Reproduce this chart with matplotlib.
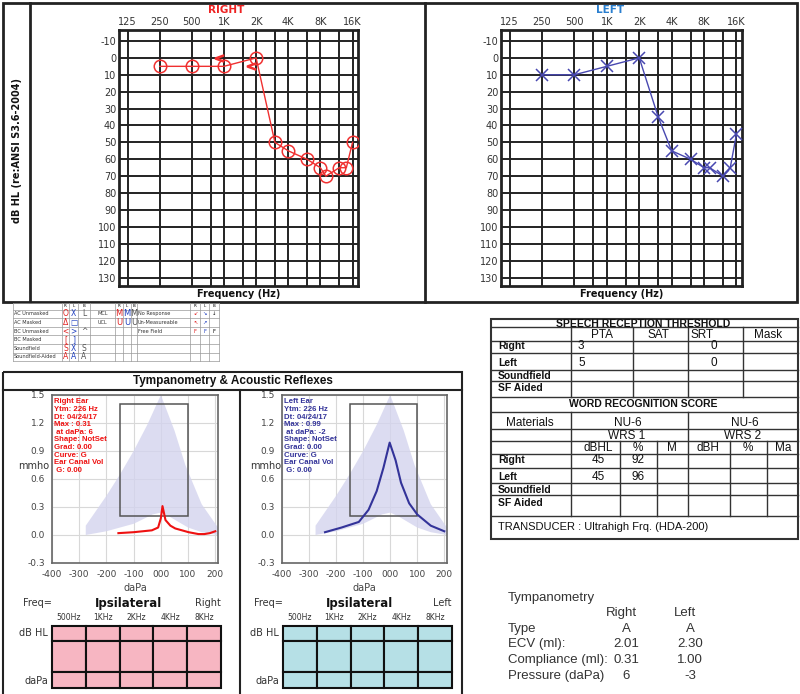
import matplotlib
matplotlib.use('Agg')
import matplotlib.pyplot as plt
import matplotlib.transforms as mtransforms
from matplotlib.patches import Rectangle
from matplotlib.ticker import NullLocator
import numpy as np

# ---- audiogram data ----
right_freqs = [250, 500, 1000, 2000, 3000, 4000, 6000, 8000, 9000, 12000, 14000, 16000]
right_db = [5, 5, 5, 0, 50, 55, 60, 65, 70, 65, 65, 50]
right_bc_freqs = [1000, 2000]
right_bc_db = [0, 5]
left_freqs = [250, 500, 1000, 2000, 3000, 4000, 6000, 8000, 9000, 12000, 14000, 16000]
left_db = [10, 10, 5, 0, 35, 55, 60, 65, 65, 70, 65, 45]

grid_freqs = [125, 250, 500, 750, 1000, 1500, 2000, 3000, 4000, 6000, 8000, 12000, 16000]
label_freqs = [125, 250, 500, 1000, 2000, 4000, 8000, 16000]
label_text = ['125', '250', '500', '1K', '2K', '4K', '8K', '16K']
db_ticks = list(range(-10, 131, 10))

# ---- tympanometry data ----
norm_upper_x = [-276, -276, -200, -150, -100, -50, 0, 50, 90, 150, 210]
norm_upper_y = [0.0, 0.1, 0.42, 0.65, 0.9, 1.18, 1.5, 1.12, 0.75, 0.33, 0.08]
norm_lower_x = [210, 150, 100, 30, 0, -30, -100, -200, -276]
norm_lower_y = [0.0, 0.03, 0.08, 0.2, 0.24, 0.22, 0.12, 0.04, 0.0]

right_tymp_x = [-156, -100, -33, -10, 0, 6, 17, 35, 53, 102, 138, 160, 180, 200]
right_tymp_y = [0.02, 0.03, 0.05, 0.08, 0.18, 0.31, 0.16, 0.1, 0.07, 0.03, 0.01, 0.01, 0.02, 0.04]
left_tymp_x = [-241, -180, -116, -80, -50, -25, -2, 20, 40, 70, 100, 150, 200]
left_tymp_y = [0.03, 0.08, 0.14, 0.27, 0.47, 0.72, 0.99, 0.8, 0.56, 0.34, 0.22, 0.1, 0.04]

tymp_xticks = [-400, -300, -200, -100, 0, 100, 200]
tymp_xlabels = ['-400', '-300', '-200', '-100', '000', '100', '200']
tymp_yticks = [-0.3, 0.0, 0.3, 0.6, 0.9, 1.2, 1.5]
tymp_ylabels = ['-0.3', '0.0', '0.3', '0.6', '0.9', '1.2', '1.5']

right_info = ['Right Ear', 'Ytm: 226 Hz', 'Dt: 04/24/17', 'Max : 0.31', ' at daPa: 6',
              'Shape: NotSet', 'Grad: 0.00', 'Curve: G', 'Ear Canal Vol', ' G: 0.00']
left_info = ['Left Ear', 'Ytm: 226 Hz', 'Dt: 04/24/17', 'Max : 0.99', ' at daPa: -2',
             'Shape: NotSet', 'Grad: 0.00', 'Curve: G', 'Ear Canal Vol', ' G: 0.00']

reflex_freqs = ['500Hz', '1KHz', '2KHz', '4KHz', '8KHz']

# ---- speech table data ----
srt_cols = ['PTA', 'SAT', 'SRT', 'Mask']
srt_rows = ['Right', 'Left', 'Soundfield', 'SF Aided']
srt_pta = ['3', '5', '', '']
srt_srt = ['0', '0', '', '']
wrs_cols = ['dBHL', '%', 'M', 'dBH', '%', 'Ma']
wrs_dbhl = ['45', '45', '', '']
wrs_pct = ['92', '96', '', '']

# ---- tympanometry summary ----
summ_labels = ['Type', 'ECV (ml):', 'Compliance (ml):', 'Pressure (daPa)']
summ_right = ['A', '2.01', '0.31', '6']
summ_left = ['A', '2.30', '1.00', '-3']

# ---- symbol key ----
key_rows = ['AC Unmasked', 'AC Masked', 'BC Unmasked', 'BC Masked', 'Soundfield', 'Soundfield-Aided']
key_r = ['O', 'Δ', '<', '[', 'S', 'A']
key_l = ['X', '□', '>', ']', 'X', 'A']
key_b = ['L', '', '^', '', 'S', 'A']
key_mid_rows = ['MCL', 'UCL']
key_mid_syms = ['M', 'U']
key_nr_rows = ['No Response', 'Un-Measureable', 'Free Field']
key_nr_r = ['↙', '↖', 'F']
key_nr_l = ['↘', '↗', 'F']
key_nr_b = ['↓', '', 'F']

RED = '#f03030'
BLUE = '#4848b0'

W, H = 800, 694
fig = plt.figure(figsize=(W / 100, H / 100), dpi=100)
ARIAL = 'Liberation Sans'


def box(x0, y0, x1, y1):
    return [x0 / W, 1 - y1 / H, (x1 - x0) / W, (y1 - y0) / H]


# overlay in pixel coordinates for frames, tables and labels
ov = fig.add_axes([0, 0, 1, 1], zorder=0)
ov.set_xlim(0, W)
ov.set_ylim(H, 0)
ov.axis('off')


def frame(x0, y0, x1, y1, lw=1.5, color='#222222'):
    ov.add_patch(Rectangle((x0, y0), x1 - x0, y1 - y0, fill=False, ec=color, lw=lw))


def hl(y, x0, x1, lw=1.0, color='#333333'):
    ov.plot([x0, x1], [y, y], color=color, lw=lw)


def vl(x, y0, y1, lw=1.0, color='#333333'):
    ov.plot([x, x], [y0, y1], color=color, lw=lw)


# ---- audiogram frame ----
frame(3, 3, 797, 302, lw=2)
vl(30, 3, 302, lw=2, color='#222222')
vl(425, 3, 302, lw=2, color='#222222')
ov.text(17, 150, 'dB HL (re:ANSI S3.6-2004)', rotation=90, ha='center', va='center',
        fontsize=7, fontweight='bold', color='#111111')


def audiogram(rect, freqs, db, color, marker, title, title_color, title_x, bc=None):
    ax = fig.add_axes(box(*rect), zorder=1)
    ax.set_xscale('log')
    for f in grid_freqs:
        ax.axvline(f, color='#222222', lw=1.4, zorder=1)
    for d in db_ticks:
        ax.axhline(d, color='#222222', lw=1.4, zorder=1)
    ax.plot(freqs, db, color=color, lw=1.0, zorder=3)
    ax.plot(freqs, db, ls='none', marker=marker, ms=9, mfc='none', mec=color, mew=1.1, zorder=4)
    if bc is not None:
        off = ax.transData + mtransforms.ScaledTranslation(-3.5 / 72, 0, fig.dpi_scale_trans)
        ax.plot(bc[0], bc[1], ls='none', marker='$<$', ms=6, color=color, transform=off, zorder=4)
    ax.set_xlim(104, 18000)
    ax.set_ylim(135, -16.5)
    ax.xaxis.tick_top()
    ax.set_xticks(label_freqs)
    ax.set_xticklabels(label_text)
    ax.xaxis.set_minor_locator(NullLocator())
    ax.set_yticks(db_ticks)
    ax.set_yticklabels([str(d) for d in db_ticks])
    ax.tick_params(length=0, labelsize=7, pad=2, colors='#333333')
    for s in ax.spines.values():
        s.set_linewidth(2)
        s.set_color('#222222')
    ov.text(title_x, 10, title, ha='center', va='center', fontsize=7.5,
            fontweight='bold', color=title_color)
    ov.text((rect[0] + rect[2]) / 2, 294, 'Frequency (Hz)', ha='center', va='center',
            fontsize=7, fontweight='bold', color='#111111')
    return ax


audiogram((119, 30, 358, 286), right_freqs, right_db, RED, 'o', 'RIGHT', '#ee2222', 226,
          bc=(right_bc_freqs, right_bc_db))
audiogram((501, 30, 742, 286), left_freqs, left_db, BLUE, 'x', 'LEFT', '#2a7fcf', 610)

# ---- symbol key ----
kx = [13, 62, 69, 78, 90, 115, 123, 131, 137, 190, 200, 209, 219]
ky = [303, 309.5] + [309.5 + 8.6 * (i + 1) for i in range(6)]
for x in kx:
    vl(x, ky[0], ky[-1], lw=0.5, color='#999999')
for y in ky:
    hl(y, kx[0], kx[-1], lw=0.5, color='#999999')
for cols in ([1, 2, 3], [5, 6, 7], [9, 10, 11]):
    for c, t in zip(cols, ['R', 'L', 'B']):
        ov.text((kx[c] + kx[c + 1]) / 2, (ky[0] + ky[1]) / 2, t, fontsize=3, ha='center', va='center')
sym_colors = ['#e02020', '#2040c0', '#555555']
for i, lab in enumerate(key_rows):
    yc = (ky[i + 1] + ky[i + 2]) / 2
    ov.text(kx[0] + 1, yc, lab, fontsize=3.6, va='center', color='#333333')
    for c, sym, col in zip([1, 2, 3], [key_r[i], key_l[i], key_b[i]], sym_colors):
        ov.text((kx[c] + kx[c + 1]) / 2, yc, sym, fontsize=5.5, ha='center', va='center', color=col)
for i, lab in enumerate(key_mid_rows):
    yc = (ky[i + 1] + ky[i + 2]) / 2
    ov.text(kx[4] + 8, yc, lab, fontsize=3.6, va='center', color='#333333')
    for c, col in zip([5, 6, 7], sym_colors):
        ov.text((kx[c] + kx[c + 1]) / 2, yc, key_mid_syms[i], fontsize=6, ha='center',
                va='center', color=col)
for i, lab in enumerate(key_nr_rows):
    yc = (ky[i + 1] + ky[i + 2]) / 2
    ov.text(kx[8] + 1, yc, lab, fontsize=3.6, va='center', color='#333333')
    for c, sym, col in zip([9, 10, 11], [key_nr_r[i], key_nr_l[i], key_nr_b[i]],
                           ['#e02020', '#2040c0', '#111111']):
        ov.text((kx[c] + kx[c + 1]) / 2, yc, sym, fontsize=3.8, ha='center', va='center', color=col)

# ---- tympanometry frame ----
frame(3, 372, 462, 700, lw=1.5)
hl(390, 3, 462, lw=1.5, color='#222222')
vl(240, 390, 694, lw=1.5, color='#222222')
ov.text(233, 381, 'Tympanometry & Acoustic Reflexes', ha='center', va='center',
        fontsize=8.5, fontweight='bold', family=ARIAL, color='#111111')


def tymp(rect, px, py, color, info, mmho_x):
    ax = fig.add_axes(box(*rect), zorder=1)
    ax.fill(np.r_[norm_upper_x, norm_lower_x], np.r_[norm_upper_y, norm_lower_y],
            color='#d4d4ee', alpha=0.8, lw=0, zorder=1)
    ax.add_patch(Rectangle((-150, 0.2), 250, 1.2, fill=False, ec='#555555', lw=1.1, zorder=2))
    ax.plot(px, py, color=color, lw=1.5, zorder=3)
    ax.set_xlim(-400, 210)
    ax.set_ylim(-0.3, 1.5)
    ax.set_xticks(tymp_xticks)
    ax.set_xticklabels(tymp_xlabels)
    ax.set_yticks(tymp_yticks)
    ax.set_yticklabels(tymp_ylabels)
    ax.grid(color='#d8d8d8', lw=0.8)
    ax.set_axisbelow(True)
    ax.tick_params(length=0, labelsize=6.5, colors='#444444', pad=5)
    for s in ax.spines.values():
        s.set_linewidth(1.2)
        s.set_color('#666666')
    ax.text(0.012, 0.98, '\n'.join(info), transform=ax.transAxes, va='top', ha='left',
            fontsize=5.6, fontweight='bold', family=ARIAL, color=color, linespacing=1.12, zorder=5)
    ax.set_xlabel('daPa', fontsize=7, color='#444444', labelpad=3)
    ov.text(mmho_x, 466, 'mmho', fontsize=7, va='center', ha='left', color='#333333')
    return ax


tymp((52, 395, 218, 563), right_tymp_x, right_tymp_y, '#ee1111', right_info, 18)
tymp((282, 395, 447, 563), left_tymp_x, left_tymp_y, '#333399', left_info, 250)


def reflex(x0, x1, lab_x, side, color):
    cw = (x1 - x0) / len(reflex_freqs)
    ov.text(lab_x - 25, 603, 'Freq=', fontsize=7, va='center', ha='left', color='#333333')
    ov.text((x0 + x1) / 2 - 8, 603, 'Ipsilateral', fontsize=8.5, fontweight='bold',
            ha='center', va='center', color='#111111')
    ov.text(x1, 603, side, fontsize=7, ha='right', va='center', color='#333333')
    ov.text(lab_x, 633, 'dB HL', fontsize=7, ha='right', va='center', color='#333333')
    ov.text(lab_x, 681, 'daPa', fontsize=7, ha='right', va='center', color='#333333')
    rows = [626, 641, 672, 688]
    for i, fr in enumerate(reflex_freqs):
        xc = x0 + cw * i
        ov.text(xc + cw / 2, 618, fr, fontsize=5.5, ha='center', va='center', color='#333333')
        for r0, r1 in zip(rows[:-1], rows[1:]):
            ov.add_patch(Rectangle((xc, r0), cw, r1 - r0, fc=color, ec='#111111', lw=1.5))


reflex(52, 221, 48, 'Right', '#f7b6c2')
reflex(283, 452, 279, 'Left', '#b6e0e6')

# ---- speech table ----
frame(491, 319, 798, 539, lw=1.5, color='#333333')
for y in [327, 341, 353, 370, 381, 397, 412, 429, 441, 454, 468, 483, 495, 516]:
    hl(y, 491, 798)
for x in [571, 633, 688, 743]:
    vl(x, 327, 397)
for x in [571, 688]:
    vl(x, 412, 516)
for x in [620, 657, 730, 767]:
    vl(x, 441, 516)

tkw = dict(family=ARIAL, color='#111111', va='center')
ov.text(643, 323.5, 'SPEECH RECEPTION THRESHOLD', ha='center', fontsize=7.5, fontweight='bold', **tkw)
for xc, t in zip([602, 658, 702, 768], srt_cols):
    ov.text(xc, 335, t, ha='center', fontsize=8.5, **tkw)
for yc, lab, pta, srt in zip([346, 363, 376, 388], srt_rows, srt_pta, srt_srt):
    ov.text(498, yc, lab, ha='left', fontsize=7.5, fontweight='bold', **tkw)
    ov.text(578, yc, pta, ha='left', fontsize=8.5, **tkw)
    ov.text(714, yc, srt, ha='center', fontsize=8.5, **tkw)
ov.text(643, 404, 'WORD RECOGNITION SCORE', ha='center', fontsize=7.5, fontweight='bold', **tkw)
ov.text(530, 423, 'Materials', ha='center', fontsize=8.5, **tkw)
ov.text(628, 423, 'NU-6', ha='center', fontsize=8.5, **tkw)
ov.text(745, 423, 'NU-6', ha='center', fontsize=8.5, **tkw)
ov.text(627, 436, 'WRS 1', ha='center', fontsize=8.5, **tkw)
ov.text(743, 436, 'WRS 2', ha='center', fontsize=8.5, **tkw)
for xc, t in zip([598, 638, 672, 708, 748, 783], wrs_cols):
    ov.text(xc, 448, t, ha='center', fontsize=8.5, **tkw)
for yc, lab, dbhl, pct in zip([460, 477, 490, 503], srt_rows, wrs_dbhl, wrs_pct):
    ov.text(498, yc, lab, ha='left', fontsize=7.5, fontweight='bold', **tkw)
    ov.text(598, yc, dbhl, ha='center', fontsize=8.5, **tkw)
    ov.text(638, yc, pct, ha='center', fontsize=8.5, **tkw)
ov.text(498, 527, 'TRANSDUCER : Ultrahigh Frq. (HDA-200)', ha='left', fontsize=8, **tkw)

# ---- tympanometry summary ----
skw = dict(family=ARIAL, color='#333333', va='center', fontsize=9.5)
ov.text(508, 598, 'Tympanometry', ha='left', **skw)
ov.text(621, 613, 'Right', ha='center', **skw)
ov.text(685, 613, 'Left', ha='center', **skw)
for yc, lab, r, l in zip([629, 644, 660, 676], summ_labels, summ_right, summ_left):
    ov.text(508, yc, lab, ha='left', **skw)
    ov.text(626, yc, r, ha='center', **skw)
    ov.text(690, yc, l, ha='center', **skw)

fig.savefig('out.png', dpi=100)
